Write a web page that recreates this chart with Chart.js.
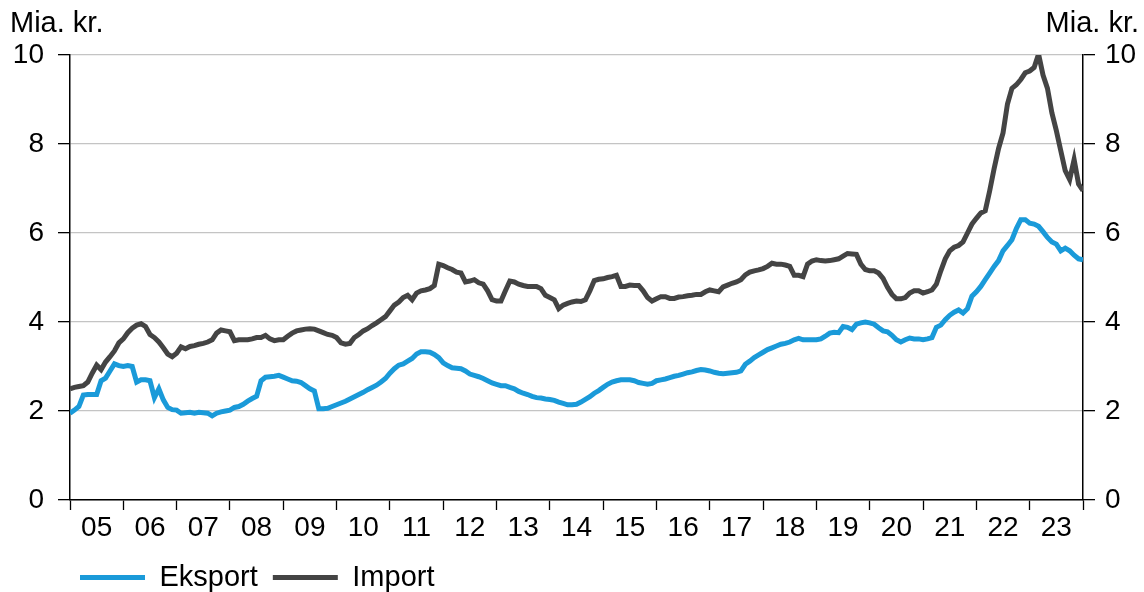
<!DOCTYPE html>
<html>
<head>
<meta charset="utf-8">
<script src="https://cdn.jsdelivr.net/npm/chart.js@4"></script>
<style>
  html, body { margin: 0; padding: 0; background: #fff; }
  #wrap { width: 1144px; height: 592px; }
</style>
</head>
<body>
<div id="wrap"><canvas id="chart"></canvas></div>
<script>
// monthly values, Jan 2005 .. Jan 2024 (mia. kr.)
const years = ['05', '06', '07', '08', '09', '10', '11', '12', '13', '14', '15', '16', '17', '18', '19', '20', '21', '22', '23'];
const yTicks = [0, 2, 4, 6, 8, 10];

const eksport = [
  1.95, 2.02, 2.1, 2.36, 2.37, 2.37, 2.37, 2.68, 2.74, 2.9, 3.06, 3.02,
  3.0, 3.02, 3.0, 2.65, 2.7, 2.7, 2.68, 2.3, 2.5, 2.25, 2.08, 2.03,
  2.02, 1.95, 1.96, 1.97, 1.95, 1.97, 1.96, 1.95, 1.89, 1.95, 1.98, 2.0,
  2.02, 2.08, 2.1, 2.15, 2.22, 2.28, 2.33, 2.68, 2.76, 2.77, 2.78, 2.8,
  2.76, 2.72, 2.68, 2.67, 2.64, 2.57, 2.5, 2.45, 2.05, 2.05, 2.06, 2.1,
  2.14, 2.18, 2.22, 2.27, 2.32, 2.37, 2.42, 2.48, 2.53, 2.58, 2.65, 2.73,
  2.85, 2.95, 3.03, 3.06, 3.12, 3.18, 3.28, 3.33, 3.33, 3.32, 3.27, 3.2,
  3.08, 3.02, 2.97, 2.96, 2.95, 2.9, 2.83, 2.8, 2.77, 2.73, 2.68, 2.63,
  2.6, 2.57, 2.57, 2.53, 2.5, 2.44, 2.4, 2.37, 2.33, 2.3, 2.29, 2.27,
  2.26, 2.24, 2.2, 2.17, 2.14, 2.14, 2.15, 2.2, 2.26, 2.32, 2.4, 2.46,
  2.53, 2.6, 2.65, 2.68, 2.7, 2.7, 2.7, 2.68, 2.64, 2.62, 2.6, 2.62,
  2.68, 2.7, 2.72, 2.75, 2.78, 2.8, 2.83, 2.86, 2.88, 2.91, 2.93, 2.92,
  2.9, 2.87, 2.85, 2.84, 2.85, 2.86, 2.87, 2.9, 3.05, 3.12, 3.2, 3.26,
  3.32, 3.38, 3.42, 3.46, 3.5, 3.52, 3.55, 3.6, 3.63, 3.6, 3.6, 3.6,
  3.6, 3.62, 3.68, 3.75, 3.77, 3.76, 3.9, 3.88, 3.83, 3.95, 3.98, 4.0,
  3.98, 3.95, 3.87, 3.8, 3.78, 3.7, 3.6, 3.55, 3.6, 3.64, 3.62, 3.62,
  3.6, 3.62, 3.65, 3.88, 3.93, 4.05, 4.15, 4.22, 4.27, 4.2, 4.3, 4.58,
  4.68, 4.8, 4.95, 5.1, 5.25, 5.38, 5.6, 5.72, 5.85, 6.1, 6.3, 6.3,
  6.22, 6.2, 6.15, 6.03, 5.9, 5.8, 5.75, 5.6, 5.66, 5.6, 5.5, 5.42,
  5.4
];

const importValues = [
  2.5, 2.53, 2.55, 2.57, 2.65, 2.85, 3.03, 2.93, 3.1, 3.22, 3.35, 3.53,
  3.62, 3.76, 3.86, 3.93, 3.96, 3.9, 3.72, 3.65, 3.55, 3.42, 3.28, 3.22,
  3.3, 3.44, 3.4, 3.45, 3.47, 3.5, 3.52, 3.55, 3.6, 3.75, 3.82, 3.8,
  3.78, 3.58, 3.6, 3.6, 3.6, 3.62, 3.65, 3.65, 3.7, 3.62, 3.58, 3.6,
  3.6, 3.68, 3.75, 3.8, 3.82, 3.84, 3.85, 3.84, 3.8, 3.76, 3.72, 3.7,
  3.65, 3.53, 3.5, 3.52, 3.65, 3.72, 3.8, 3.85, 3.92, 3.98, 4.05, 4.12,
  4.25, 4.38, 4.45, 4.55, 4.6, 4.5, 4.65, 4.7, 4.72, 4.75, 4.82, 5.3,
  5.27, 5.22, 5.18, 5.12, 5.1, 4.9, 4.92, 4.95, 4.88, 4.85, 4.7, 4.5,
  4.47, 4.47, 4.7, 4.92, 4.9, 4.85, 4.82, 4.8, 4.8, 4.8, 4.75, 4.6,
  4.55, 4.5, 4.3, 4.38, 4.42, 4.45, 4.47, 4.46, 4.5, 4.7, 4.93, 4.96,
  4.97, 5.0, 5.02, 5.05, 4.8, 4.8, 4.83, 4.82, 4.82, 4.7, 4.55, 4.47,
  4.52, 4.57, 4.57, 4.53, 4.53, 4.56, 4.57, 4.59, 4.6, 4.62, 4.62, 4.68,
  4.72, 4.7, 4.68, 4.79, 4.83, 4.87, 4.9, 4.95, 5.06, 5.12, 5.15, 5.17,
  5.2, 5.25, 5.32, 5.3, 5.3, 5.28, 5.25, 5.05, 5.05, 5.02, 5.3, 5.37,
  5.4, 5.38, 5.37, 5.38, 5.4, 5.42, 5.48, 5.54, 5.53, 5.52, 5.3, 5.18,
  5.15, 5.15, 5.1, 4.98, 4.78, 4.62, 4.52, 4.52, 4.55, 4.65, 4.7, 4.7,
  4.65, 4.68, 4.72, 4.85, 5.15, 5.42, 5.6, 5.68, 5.72, 5.8, 6.0, 6.2,
  6.33, 6.45, 6.5, 6.95, 7.45, 7.9, 8.25, 8.9, 9.25, 9.33, 9.45, 9.6,
  9.64, 9.72, 10.02, 9.55, 9.25, 8.7, 8.3, 7.85, 7.4, 7.2, 7.65, 7.1,
  6.95
];

const FONT = "'Liberation Sans', Arial, sans-serif";
const BLUE = '#1a9ad9';
const GREY = '#444444';

const toPoints = arr => arr.map((v, i) => ({ x: i, y: v }));
const totalMonths = years.length * 12;

// "Mia. kr." over both axes
const unitLabels = {
  id: 'unitLabels',
  afterDraw(chart) {
    const ctx = chart.ctx;
    ctx.save();
    ctx.font = '29px ' + FONT;
    ctx.fillStyle = '#000';
    ctx.textBaseline = 'alphabetic';
    ctx.textAlign = 'left';
    ctx.fillText('Mia. kr.', 10, 32);
    ctx.textAlign = 'right';
    ctx.fillText('Mia. kr.', 1139, 32);
    ctx.restore();
  }
};

// move the legend under the plot, in line with the axis
const legendShift = {
  id: 'legendShift',
  afterLayout(chart) {
    chart.legend.left = 65;
    chart.legend.top = 548;
  }
};

const yAxis = (position, padding) => ({
  position,
  min: 0,
  max: 10,
  afterBuildTicks: s => { s.ticks = yTicks.map(v => ({ value: v })); },
  afterFit: s => { s.width = position === 'left' ? 70 : 61; },
  border: { display: true, color: '#000', width: 1.5 },
  grid: {
    drawOnChartArea: position === 'left',
    color: '#c4c4c4',
    lineWidth: 1.3,
    tickLength: 12,
    tickColor: '#000',
    tickWidth: 1.3
  },
  ticks: { color: '#000', padding, font: { size: 28, family: FONT } }
});

new Chart(document.getElementById('chart'), {
  type: 'line',
  data: {
    datasets: [
      {
        label: 'Eksport',
        data: toPoints(eksport),
        borderColor: BLUE,
        backgroundColor: BLUE,
        borderWidth: 5,
        pointRadius: 0,
        tension: 0
      },
      {
        label: 'Import',
        data: toPoints(importValues),
        borderColor: GREY,
        backgroundColor: GREY,
        borderWidth: 5,
        pointRadius: 0,
        tension: 0
      }
    ]
  },
  options: {
    responsive: true,
    maintainAspectRatio: false,
    animation: false,
    layout: { padding: { top: 55, left: 0, right: 0, bottom: 0 } },
    plugins: {
      legend: {
        position: 'bottom',
        align: 'start',
        labels: {
          color: '#000',
          font: { size: 29, family: FONT },
          boxWidth: 65,
          boxHeight: 5,
          padding: 15,
          generateLabels: chart =>
            Chart.defaults.plugins.legend.labels.generateLabels(chart).map(l => ({ ...l, lineWidth: 0 }))
        }
      },
      tooltip: { enabled: false }
    },
    scales: {
      x: {
        type: 'linear',
        min: 0,
        max: totalMonths,
        afterBuildTicks: s => {
          const t = [];
          for (let m = 0; m <= totalMonths; m += 6) t.push({ value: m });
          s.ticks = t;
        },
        afterFit: s => { s.height = s.chart.height - 500 - s.chart.legend.height; },
        border: { display: true, color: '#000', width: 1.5 },
        grid: {
          drawOnChartArea: false,
          tickLength: 10,
          tickWidth: 1.3,
          tickColor: ctx => (ctx.tick && ctx.tick.value % 12 === 0 ? '#000' : 'rgba(0,0,0,0)')
        },
        ticks: {
          autoSkip: false,
          maxRotation: 0,
          padding: 1,
          color: '#000',
          font: { size: 28, family: FONT },
          callback: v => (v % 12 === 6 ? years[(v - 6) / 12] : '')
        }
      },
      y: yAxis('left', 14),
      y2: yAxis('right', 10)
    }
  },
  plugins: [unitLabels, legendShift]
});
</script>
</body>
</html>
